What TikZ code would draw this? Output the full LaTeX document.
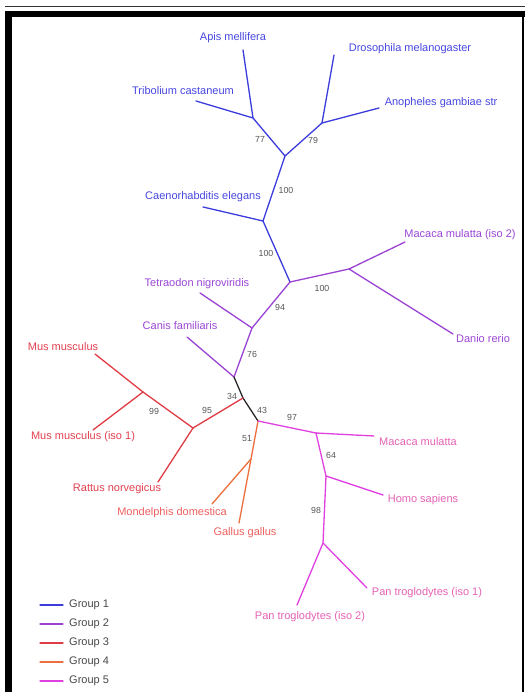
\documentclass[tikz,border=0pt]{standalone}
\usepackage{fontspec}
\setmainfont{Liberation Sans}
\definecolor{gA}{HTML}{3C3CDC}
\definecolor{gAt}{HTML}{4646E0}
\definecolor{gB}{HTML}{9A42D2}
\definecolor{gBt}{HTML}{9A46D6}
\definecolor{gC}{HTML}{E03C44}
\definecolor{gCt}{HTML}{E2404E}
\definecolor{gD}{HTML}{EC6E3C}
\definecolor{gDt}{HTML}{EE5E5E}
\definecolor{gE}{HTML}{E040E0}
\definecolor{gEt}{HTML}{E462B4}
\definecolor{bootc}{HTML}{555555}
\tikzset{
  lbl/.style={inner sep=0pt, font=\fontsize{11}{13}\selectfont},
  boot/.style={inner sep=0pt, font=\fontsize{8.8}{10}\selectfont, text=bootc},
  br/.style={line width=1.3pt, line cap=round},
  leg/.style={inner sep=0pt, anchor=west, font=\fontsize{11}{13}\selectfont, text=black!72},
}
\begin{document}
\begin{tikzpicture}[x=1pt,y=-1pt]
\useasboundingbox (0,0) rectangle (525,692);
% frame
\draw[line width=1.5pt, black!80] (5,6.5) -- (525,6.5);
\fill[black] (5,11) rectangle (525,17);
\fill[black] (5,11) rectangle (12,692);
\draw[line width=1.5pt, black] (523,17) -- (523,692);
% internal nodes
\coordinate (A1) at (253,118);
\coordinate (B1) at (322,123);
\coordinate (R1) at (285,156);
\coordinate (C1) at (263,221);
\coordinate (D1) at (290,282);
\coordinate (E1) at (349,269);
\coordinate (F1) at (252,328);
\coordinate (G1) at (234,377);
\coordinate (H1) at (243,398);
\coordinate (I1) at (258,421);
\coordinate (J1) at (193,428);
\coordinate (K1) at (143,392);
\coordinate (L1) at (251,459);
\coordinate (M1) at (316,433);
\coordinate (N1) at (326,476);
\coordinate (O1) at (323,543);
% leaf ends
\coordinate (apis) at (243,50);
\coordinate (trib) at (196,101);
\coordinate (dros) at (334,55);
\coordinate (anop) at (379,108);
\coordinate (caen) at (203,207);
\coordinate (mac2) at (405,242);
\coordinate (dani) at (453,334);
\coordinate (tetr) at (200,293);
\coordinate (cani) at (187,337);
\coordinate (mus) at (95,354);
\coordinate (mus1) at (93,430);
\coordinate (ratt) at (158,482);
\coordinate (mond) at (212,504);
\coordinate (gall) at (239,523);
\coordinate (mac) at (374,436);
\coordinate (homo) at (383,495);
\coordinate (pan1) at (367,588);
\coordinate (pan2) at (297,605);
% labels
\node[lbl, text=gAt] (tApis) at (233,38) {Apis mellifera};
\node[lbl, text=gAt] (tTrib) at (183,91) {Tribolium castaneum};
\node[lbl, text=gAt] (tDros) at (410,49) {Drosophila melanogaster};
\node[lbl, text=gAt] (tAnop) at (441,103) {Anopheles gambiae str};
\node[lbl, text=gAt] (tCaen) at (203,197) {Caenorhabditis elegans};
\node[lbl, text=gBt] (tMac2) at (460,235) {Macaca mulatta (iso 2)};
\node[lbl, text=gBt] (tDani) at (483,339) {Danio rerio};
\node[lbl, text=gBt] (tTetr) at (197,284) {Tetraodon nigroviridis};
\node[lbl, text=gBt] (tCani) at (180,326) {Canis familiaris};
\node[lbl, text=gCt] (tMus) at (63,347) {Mus musculus};
\node[lbl, text=gCt] (tMus1) at (83,437) {Mus musculus (iso 1)};
\node[lbl, text=gCt] (tRatt) at (117,489) {Rattus norvegicus};
\node[lbl, text=gDt] (tMond) at (172,513) {Mondelphis domestica};
\node[lbl, text=gDt] (tGall) at (245,533) {Gallus gallus};
\node[lbl, text=gEt] (tMac) at (418,442) {Macaca mulatta};
\node[lbl, text=gEt] (tHomo) at (423,500) {Homo sapiens};
\node[lbl, text=gEt] (tPan1) at (427,593) {Pan troglodytes (iso 1)};
\node[lbl, text=gEt] (tPan2) at (310,617) {Pan troglodytes (iso 2)};
% branches group 1
\draw[br, gA] (apis) -- (A1);
\draw[br, gA] (trib) -- (A1);
\draw[br, gA] (A1) -- (R1);
\draw[br, gA] (dros) -- (B1);
\draw[br, gA] (anop) -- (B1);
\draw[br, gA] (B1) -- (R1);
\draw[br, gA] (R1) -- (C1);
\draw[br, gA] (caen) -- (C1);
\draw[br, gA] (C1) -- (D1);
% group 2
\draw[br, gB] (D1) -- (E1);
\draw[br, gB] (E1) -- (mac2);
\draw[br, gB] (E1) -- (dani);
\draw[br, gB] (D1) -- (F1);
\draw[br, gB] (F1) -- (tetr);
\draw[br, gB] (F1) -- (G1);
\draw[br, gB] (G1) -- (cani);
% backbone
\draw[br, black!85] (G1) -- (H1) -- (I1);
% group 3
\draw[br, gC] (H1) -- (J1);
\draw[br, gC] (J1) -- (K1);
\draw[br, gC] (K1) -- (mus);
\draw[br, gC] (K1) -- (mus1);
\draw[br, gC] (J1) -- (ratt);
% group 4
\draw[br, gD] (I1) -- (L1);
\draw[br, gD] (L1) -- (mond);
\draw[br, gD] (L1) -- (gall);
% group 5
\draw[br, gE] (I1) -- (M1);
\draw[br, gE] (M1) -- (mac);
\draw[br, gE] (M1) -- (N1);
\draw[br, gE] (N1) -- (homo);
\draw[br, gE] (N1) -- (O1);
\draw[br, gE] (O1) -- (pan1);
\draw[br, gE] (O1) -- (pan2);
% bootstrap values
\node[boot] (b77) at (260,139) {77};
\node[boot] (b79) at (313,140) {79};
\node[boot] (b100a) at (286,190) {100};
\node[boot] (b100b) at (266,253) {100};
\node[boot] (b100c) at (322,288) {100};
\node[boot] (b94) at (280,307) {94};
\node[boot] (b76) at (252,354) {76};
\node[boot] (b34) at (232,396) {34};
\node[boot] (b43) at (262,410) {43};
\node[boot] (b95) at (207,410) {95};
\node[boot] (b99) at (154,411) {99};
\node[boot] (b51) at (247,439) {51};
\node[boot] (b97) at (292,417) {97};
\node[boot] (b64) at (331,455) {64};
\node[boot] (b98) at (316,510) {98};
% legend
\coordinate (l1a) at (40,605); \coordinate (l1b) at (63,605);
\coordinate (l2a) at (40,624); \coordinate (l2b) at (63,624);
\coordinate (l3a) at (40,643); \coordinate (l3b) at (63,643);
\coordinate (l4a) at (40,662); \coordinate (l4b) at (63,662);
\coordinate (l5a) at (40,681); \coordinate (l5b) at (63,681);
\draw[br, gA] (l1a) -- (l1b);
\draw[br, gB] (l2a) -- (l2b);
\draw[br, gC] (l3a) -- (l3b);
\draw[br, gD] (l4a) -- (l4b);
\draw[br, gE] (l5a) -- (l5b);
\node[leg] (g1) at (69,605) {Group 1};
\node[leg] (g2) at (69,624) {Group 2};
\node[leg] (g3) at (69,643) {Group 3};
\node[leg] (g4) at (69,662) {Group 4};
\node[leg] (g5) at (69,681) {Group 5};
\end{tikzpicture}
\end{document}
